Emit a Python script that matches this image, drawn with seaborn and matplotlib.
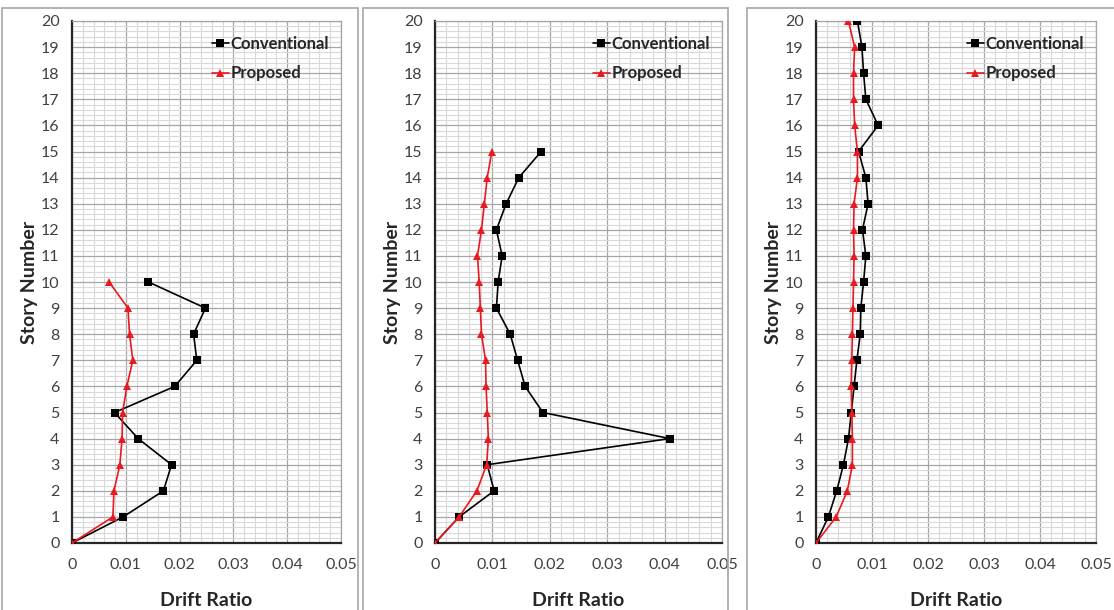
import numpy as np
import pandas as pd
import matplotlib
matplotlib.use("Agg")
import matplotlib.pyplot as plt
from matplotlib.patches import Rectangle
from matplotlib.ticker import MultipleLocator, FuncFormatter
import seaborn as sns

# data (drift ratio per story)
stories_10 = list(range(0, 11))
conv_10 = [0, 0.0095, 0.0170, 0.0185, 0.0123, 0.0079, 0.0191, 0.0232, 0.0226, 0.0248, 0.0142]
prop_10 = [0, 0.0076, 0.0078, 0.0089, 0.0093, 0.0094, 0.0102, 0.0113, 0.0107, 0.0104, 0.0069]

stories_15 = list(range(0, 16))
conv_15 = [0, 0.0042, 0.0103, 0.0091, 0.0409, 0.0188, 0.0157, 0.0144, 0.0131, 0.0107,
           0.0110, 0.0117, 0.0107, 0.0124, 0.0146, 0.0185]
prop_15 = [0, 0.0042, 0.0073, 0.0090, 0.0093, 0.0091, 0.0089, 0.0088, 0.0081, 0.0079,
           0.0077, 0.0074, 0.0081, 0.0086, 0.0091, 0.0099]

stories_20 = list(range(0, 21))
conv_20 = [0, 0.0022, 0.0037, 0.0049, 0.0058, 0.0063, 0.0068, 0.0073, 0.0079, 0.0080,
           0.0085, 0.0089, 0.0083, 0.0093, 0.0089, 0.0076, 0.0111, 0.0089, 0.0085, 0.0082, 0.0074]
prop_20 = [0, 0.0036, 0.0056, 0.0065, 0.0065, 0.0064, 0.0063, 0.0064, 0.0065, 0.0066,
           0.0067, 0.0068, 0.0067, 0.0068, 0.0074, 0.0074, 0.0069, 0.0067, 0.0067, 0.0069, 0.0058]

series_names = ["Conventional", "Proposed"]
x_ticks = [0, 0.01, 0.02, 0.03, 0.04, 0.05]

sns.set_style("white")
plt.rcParams["font.family"] = ["Lato", "DejaVu Sans"]


def make_df(stories, conv, prop):
    a = pd.DataFrame({"story": stories, "drift": conv, "series": "Conventional"})
    b = pd.DataFrame({"story": stories, "drift": prop, "series": "Proposed"})
    return pd.concat([a, b], ignore_index=True)


W, H = 1114, 610
fig = plt.figure(figsize=(W / 100, H / 100), dpi=100)

# panel frames (pixel boxes) and axes boxes
frames = [(2, 8, 358, 640), (363, 8, 728, 640), (747, 8, 1130, 640)]
axes_px = [(72, 21, 341, 543), (435, 21, 722, 543), (816, 21, 1096, 543)]
datasets = [(stories_10, conv_10, prop_10), (stories_15, conv_15, prop_15),
            (stories_20, conv_20, prop_20)]

for (fx0, fy0, fx1, fy1) in frames:
    fig.patches.append(Rectangle((fx0 / W, 1 - fy1 / H), (fx1 - fx0) / W, (fy1 - fy0) / H,
                                 transform=fig.transFigure, fill=False,
                                 edgecolor="#a6a6a6", linewidth=1.2, zorder=0))

for (x0, y0, x1, y1), (st, cv, pr) in zip(axes_px, datasets):
    ax = fig.add_axes([x0 / W, 1 - y1 / H, (x1 - x0) / W, (y1 - y0) / H])
    df = make_df(st, cv, pr)
    sns.lineplot(data=df, x="drift", y="story", hue="series", style="series",
                 hue_order=series_names, style_order=series_names,
                 palette={"Conventional": "black", "Proposed": "#e8191f"},
                 markers={"Conventional": "s", "Proposed": "^"}, dashes=False,
                 sort=False, estimator=None, linewidth=1.2, markersize=5.5,
                 markeredgewidth=0, ax=ax, zorder=5)

    ax.set_xlim(0, 0.05)
    ax.set_ylim(0, 20)
    ax.set_xticks(x_ticks)
    ax.xaxis.set_minor_locator(MultipleLocator(0.002))
    ax.yaxis.set_major_locator(MultipleLocator(1))
    ax.yaxis.set_minor_locator(MultipleLocator(0.2))
    ax.xaxis.set_major_formatter(FuncFormatter(lambda v, p: "0" if abs(v) < 1e-9 else f"{v:.2f}"))
    ax.grid(which="minor", color="#d9d9d9", linewidth=0.8)
    ax.grid(which="major", color="#a6a6a6", linewidth=0.9)
    ax.set_axisbelow(True)

    for s in ["top", "right"]:
        ax.spines[s].set_color("#a6a6a6")
        ax.spines[s].set_linewidth(0.9)
    for s in ["left", "bottom"]:
        ax.spines[s].set_color("#262626")
        ax.spines[s].set_linewidth(1.6)
    ax.tick_params(which="major", direction="out", length=5, width=1.4, color="#262626",
                   labelsize=11.5, labelcolor="#404040", pad=4)
    ax.tick_params(which="minor", length=0)
    ax.tick_params(axis="x", pad=6)

    ax.set_xlabel("Drift Ratio", fontsize=14, fontweight="bold", color="#262626", labelpad=14)
    ax.set_ylabel("Story Number", fontsize=14, fontweight="bold", color="#262626", labelpad=2)

    handles, labels = ax.get_legend_handles_labels()
    leg = ax.legend(handles, labels, loc="upper right", bbox_to_anchor=(1.01, 1.0),
                    frameon=False, handlelength=1.0, handletextpad=0.1,
                    labelspacing=0.8, prop={"weight": "bold", "size": 12})
    for t in leg.get_texts():
        t.set_color("#262626")

fig.savefig("out.png", dpi=100)
